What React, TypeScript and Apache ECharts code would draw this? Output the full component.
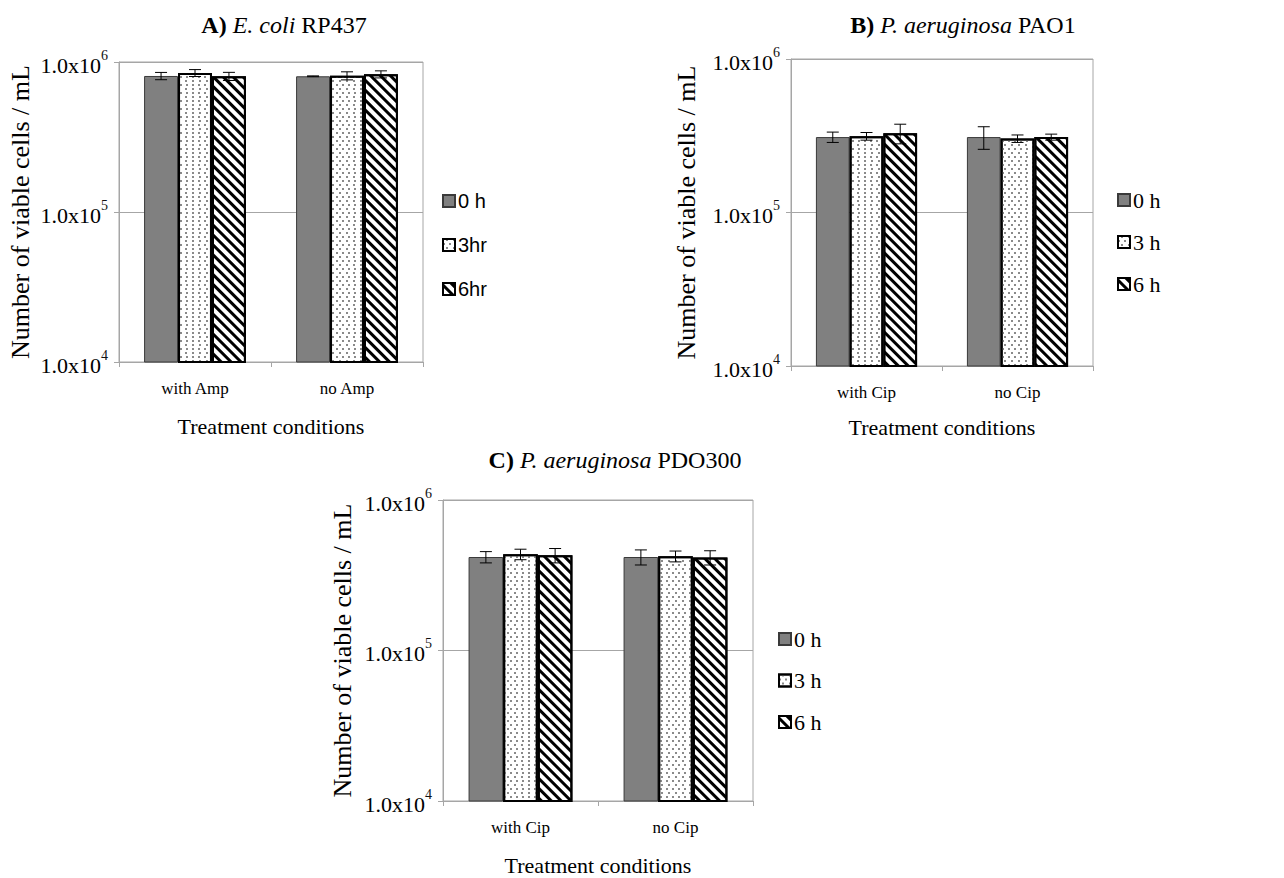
import React, { useEffect, useRef } from "react";
import * as echarts from "echarts";

const catsA = ["with Amp", "no Amp"];
const catsBC = ["with Cip", "no Cip"];
const namesA = ["0 h", "3hr", "6hr"];
const namesBC = ["0 h", "3 h", "6 h"];
const yTicks = [1e4, 1e5, 1e6];

// Panel A: E. coli RP437
const a0h = [8.07e5, 8.03e5];
const a3h = [8.45e5, 8.1e5];
const a6h = [8.03e5, 8.28e5];
const aErr0 = [0.45e5, 0.05e5];
const aErr3 = [0.45e5, 0.5e5];
const aErr6 = [0.5e5, 0.45e5];

// Panel B: P. aeruginosa PAO1
const b0h = [3.1e5, 3.1e5];
const b3h = [3.14e5, 3.03e5];
const b6h = [3.28e5, 3.1e5];
const bErr0 = [0.24e5, 0.52e5];
const bErr3 = [0.18e5, 0.17e5];
const bErr6 = [0.48e5, 0.14e5];

// Panel C: P. aeruginosa PDO300
const c0h = [4.18e5, 4.18e5];
const c3h = [4.36e5, 4.23e5];
const c6h = [4.29e5, 4.15e5];
const cErr0 = [0.36e5, 0.48e5];
const cErr3 = [0.35e5, 0.35e5];
const cErr6 = [0.47e5, 0.45e5];

const SERIF = "Liberation Serif";
const SANS = "Liberation Sans";
const GRAY = "#a6a6a6";
const CAT_GAP = 0.33;

const barStyles = [
  { color: "#808080", borderColor: "#3a3a3a", borderWidth: 1 },
  {
    color: "#ffffff",
    borderColor: "#000000",
    borderWidth: 2,
    decal: {
      symbol: "rect",
      symbolSize: 1,
      color: "#8a8a8a",
      dashArrayX: [
        [1.2, 3.3],
        [0, 2.25, 1.2, 1.05],
      ],
      dashArrayY: [1.2, 1.8],
      rotation: 0,
    },
  },
  {
    color: "#ffffff",
    borderColor: "#000000",
    borderWidth: 2,
    decal: {
      symbol: "rect",
      symbolSize: 1,
      color: "#000000",
      dashArrayX: [1, 0],
      dashArrayY: [2.4, 3.1],
      rotation: Math.PI / 4,
    },
  },
];

function makePanel(
  gi: number,
  cats: string[],
  names: string[],
  means: number[][],
  errs: number[][],
  nameGapY: number,
  nameGapX: number
) {
  const xAxis = {
    type: "category",
    gridIndex: gi,
    data: cats,
    axisLine: { show: true, lineStyle: { color: GRAY, width: 1 } },
    axisTick: { show: true, length: 5, lineStyle: { color: GRAY } },
    axisLabel: { margin: 18, color: "#000", fontFamily: SERIF, fontSize: 17 },
    name: "Treatment conditions",
    nameLocation: "middle",
    nameGap: nameGapX,
    nameTextStyle: { color: "#000", fontFamily: SERIF, fontSize: 22 },
  };
  const yAxis = {
    type: "log",
    logBase: 10,
    gridIndex: gi,
    min: yTicks[0],
    max: yTicks[yTicks.length - 1],
    axisLine: { show: true, lineStyle: { color: GRAY, width: 1 } },
    axisTick: { show: true, length: 5, lineStyle: { color: GRAY } },
    splitLine: { show: true, lineStyle: { color: GRAY, width: 1 } },
    axisLabel: {
      margin: 11,
      color: "#000",
      formatter: (v: number) => `{b|1.0x10}{s|${Math.round(Math.log10(v))}}`,
      rich: {
        b: { fontFamily: SERIF, fontSize: 22, color: "#000", lineHeight: 28, verticalAlign: "bottom" },
        s: { fontFamily: SERIF, fontSize: 14, color: "#111", lineHeight: 28, verticalAlign: "top" },
      },
    },
    name: "Number of viable cells / mL",
    nameLocation: "middle",
    nameGap: nameGapY,
    nameRotate: 90,
    nameTextStyle: { color: "#000", fontFamily: SERIF, fontSize: 26 },
  };
  const series: any[] = [];
  names.forEach((nm, i) => {
    series.push({
      type: "bar",
      name: nm,
      xAxisIndex: gi,
      yAxisIndex: gi,
      data: means[i],
      barGap: "0%",
      barCategoryGap: CAT_GAP * 100 + "%",
      itemStyle: barStyles[i],
      clip: true,
      silent: true,
    });
  });
  const errData: number[][] = [];
  for (let s = 0; s < 3; s++) {
    for (let c = 0; c < cats.length; c++) {
      errData.push([c, s, means[s][c], errs[s][c]]);
    }
  }
  series.push({
    type: "custom",
    xAxisIndex: gi,
    yAxisIndex: gi,
    silent: true,
    z: 10,
    encode: { x: 0, y: 2 },
    data: errData,
    renderItem: (params: any, api: any) => {
      const cat = api.value(0);
      const si = api.value(1);
      const m = api.value(2);
      const e = api.value(3);
      const band = api.size([1, 0])[0];
      const bw = (band * (1 - CAT_GAP)) / 3;
      const cx = api.coord([cat, m])[0] + (si - 1) * bw;
      const yHi = api.coord([cat, m + e])[1];
      const yLo = api.coord([cat, m - e])[1];
      const hw = 6;
      const st = { stroke: "#000", lineWidth: 1 };
      return {
        type: "group",
        children: [
          { type: "line", shape: { x1: cx, y1: yHi, x2: cx, y2: yLo }, style: st },
          { type: "line", shape: { x1: cx - hw, y1: yHi, x2: cx + hw, y2: yHi }, style: st },
          { type: "line", shape: { x1: cx - hw, y1: yLo, x2: cx + hw, y2: yLo }, style: st },
        ],
      };
    },
  });
  return { xAxis, yAxis, series };
}

function titleOf(letter: string, italic: string, rest: string, cx: number, top: number) {
  return {
    text: `{b|${letter}} {i|${italic}} {n|${rest}}`,
    left: cx,
    top,
    textAlign: "center",
    textStyle: {
      fontWeight: "normal",
      fontFamily: SERIF,
      fontSize: 24,
      rich: {
        b: { fontFamily: SERIF, fontSize: 24, fontWeight: "bold", color: "#000" },
        i: { fontFamily: SERIF, fontSize: 24, fontStyle: "italic", fontWeight: "normal", color: "#000" },
        n: { fontFamily: SERIF, fontSize: 24, fontWeight: "normal", color: "#000" },
      },
    },
  };
}

function legendOf(data: string[], left: number, top: number, gap: number, font: string, size: number) {
  return {
    data,
    orient: "vertical",
    left,
    top,
    itemGap: gap,
    itemWidth: 12,
    itemHeight: 12,
    icon: "rect",
    selectedMode: false,
    textStyle: { fontFamily: font, fontSize: size, color: "#000", lineHeight: 24, padding: [0, 0, 0, -2] },
  };
}

export default function App() {
  const ref = useRef<HTMLDivElement>(null);
  useEffect(() => {
    document.body.style.margin = "0";
    if (!ref.current) return;
    const chart = echarts.init(ref.current, null, { renderer: "svg" });
    const pA = makePanel(0, catsA, namesA, [a0h, a3h, a6h], [aErr0, aErr3, aErr6], 86, 53);
    const pB = makePanel(1, catsBC, namesBC, [b0h, b3h, b6h], [bErr0, bErr3, bErr6], 92, 50);
    const pC = makePanel(2, catsBC, namesBC, [c0h, c3h, c6h], [cErr0, cErr3, cErr6], 88, 53);
    chart.setOption({
      animation: false,
      backgroundColor: "#ffffff",
      title: [
        titleOf("A)", "E. coli", "RP437", 279, 8),
        titleOf("B)", "P. aeruginosa", "PAO1", 958, 8),
        titleOf("C)", "P. aeruginosa", "PDO300", 610, 443),
      ],
      legend: [
        legendOf(namesA, 437, 184, 20, SANS, 20),
        legendOf(namesBC, 1112, 183, 18, SERIF, 22),
        legendOf(namesBC, 773, 622, 17.5, SERIF, 22),
      ],
      grid: [
        { left: 119, top: 62, width: 304, height: 300, show: true, borderColor: GRAY, borderWidth: 1, containLabel: false },
        { left: 791, top: 59, width: 302, height: 307, show: true, borderColor: GRAY, borderWidth: 1, containLabel: false },
        { left: 443, top: 500, width: 310, height: 301, show: true, borderColor: GRAY, borderWidth: 1, containLabel: false },
      ],
      xAxis: [pA.xAxis, pB.xAxis, pC.xAxis],
      yAxis: [pA.yAxis, pB.yAxis, pC.yAxis],
      series: [...pA.series, ...pB.series, ...pC.series],
    });
    return () => chart.dispose();
  }, []);
  return <div ref={ref} style={{ position: "fixed", left: 0, top: 0, width: 1284, height: 878 }} />;
}
